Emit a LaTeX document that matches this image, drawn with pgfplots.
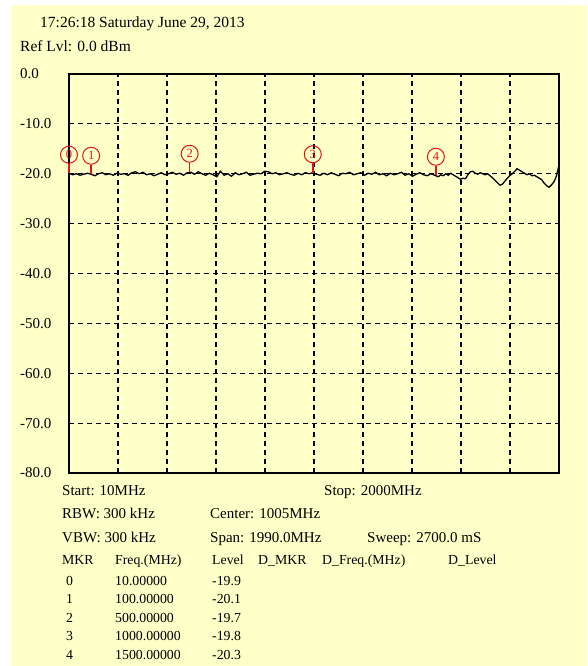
\documentclass[border=0pt]{standalone}
\usepackage{fontspec}
\setmainfont{Liberation Serif}
\usepackage{pgfplots}
\usepackage{pgfplotstable}
\pgfplotsset{compat=1.18}

\definecolor{panel}{RGB}{255,255,200}
\definecolor{mkred}{RGB}{225,20,20}

% spectrum trace, level in dBm
\pgfplotstableread{
f lvl
10 -19.9
25 -20.2
40 -20.0
55 -20.3
70 -20.1
85 -19.9
100 -20.1
115 -20.4
130 -20.0
145 -19.8
160 -20.2
175 -20.0
190 -20.3
205 -19.9
220 -20.1
235 -20.0
250 -20.3
265 -19.8
280 -19.6
295 -20.0
310 -19.7
325 -20.2
340 -20.0
355 -20.4
370 -20.1
385 -19.8
400 -20.2
415 -20.0
430 -19.7
445 -20.1
460 -19.9
475 -20.3
490 -19.8
505 -19.7
520 -20.1
535 -19.6
550 -20.0
565 -20.3
580 -19.9
595 -20.2
610 -20.6
625 -19.5
640 -20.3
655 -20.0
670 -20.5
685 -19.8
700 -20.2
715 -20.0
730 -19.7
745 -20.3
760 -20.1
775 -19.9
790 -20.0
805 -19.5
820 -19.6
835 -20.0
850 -19.8
865 -20.2
880 -20.0
895 -19.8
910 -20.1
925 -20.3
940 -19.9
955 -20.2
970 -19.8
985 -20.0
1000 -19.8
1015 -20.1
1030 -20.3
1045 -19.9
1060 -20.2
1075 -19.8
1090 -20.1
1105 -20.4
1120 -19.9
1135 -20.0
1150 -19.7
1165 -20.2
1180 -20.0
1195 -19.8
1210 -20.3
1225 -19.9
1240 -20.1
1255 -19.7
1270 -20.2
1285 -20.0
1300 -20.4
1315 -19.9
1330 -20.2
1345 -20.0
1360 -19.7
1375 -20.3
1390 -20.0
1405 -20.5
1420 -20.1
1435 -19.8
1450 -20.2
1465 -20.4
1480 -20.0
1495 -20.3
1510 -20.6
1520 -20.2
1530 -20.4
1540 -20.0
1550 -20.3
1560 -19.9
1570 -20.2
1580 -20.5
1590 -20.8
1600 -21.1
1610 -20.9
1620 -21.0
1630 -20.2
1640 -19.6
1650 -19.5
1660 -19.9
1670 -20.1
1680 -19.8
1690 -20.0
1700 -20.2
1710 -20.0
1720 -20.4
1730 -20.8
1740 -21.3
1750 -21.8
1760 -22.3
1770 -22.1
1780 -21.5
1790 -20.9
1800 -20.4
1810 -20.0
1820 -19.5
1830 -19.0
1840 -19.3
1850 -19.6
1860 -19.9
1870 -20.2
1880 -20.0
1890 -20.4
1900 -20.3
1910 -20.6
1920 -20.9
1930 -21.2
1940 -21.9
1950 -22.4
1960 -22.7
1970 -22.2
1980 -21.6
1990 -20.4
2000 -18.2
}\trace

% markers
\pgfplotstableread{
f lvl mkr
10 -19.9 0
100 -20.1 1
500 -19.7 2
1000 -19.8 3
1500 -20.3 4
}\markers

\pgfdeclareplotmark{stem}{%
  \pgfpathmoveto{\pgfpointorigin}%
  \pgfpathlineto{\pgfpoint{0pt}{9.5pt}}%
  \pgfusepathqstroke}

\begin{document}
\begin{tikzpicture}[x=1pt,y=1pt]
\fill[white] (0pt,0pt) rectangle (587pt,-666pt);
\fill[panel] (11pt,-5pt) rectangle (587pt,-666pt);

\begin{axis}[
    at={(69pt,-473pt)}, anchor=south west,
    scale only axis,
    width=490pt, height=399pt,
    xmin=10, xmax=2000, ymin=-80, ymax=0,
    xtick={10,209,408,607,806,1005,1204,1403,1602,1801,2000},
    xticklabels={},
    ytick={-80,-70,...,0},
    yticklabels={-80.0,-70.0,-60.0,-50.0,-40.0,-30.0,-20.0,-10.0,0.0},
    yticklabel style={anchor=west, inner sep=0pt, xshift=-49pt,
        font=\fontsize{15}{18}\selectfont},
    major tick length=0pt,
    grid=major,
    major grid style={black, line width=1.2pt, dash pattern=on 5pt off 4pt},
    axis line style={line width=2.4pt},
    clip=false,
    ]
    \addplot[black, line width=1.3pt, mark=none] table[x=f, y=lvl] {\trace};
    \addplot[mkred, line width=1.6pt, only marks, mark=stem,
        point meta=explicit symbolic,
        nodes near coords,
        nodes near coords style={circle, draw=mkred, line width=1pt,
            text=mkred, inner sep=0pt, minimum size=17pt,
            anchor=south, yshift=9.5pt,
            font=\fontsize{12.5}{12}\selectfont},
        ] table[x=f, y=lvl, meta=mkr] {\markers};
\end{axis}

\node[anchor=base west, inner sep=0pt, font=\fontsize{15.5}{18}\selectfont]
    at (40pt,-28pt) {17:26:18 Saturday June 29, 2013};
\node[anchor=base west, inner sep=0pt, font=\fontsize{15.5}{18}\selectfont]
    at (20pt,-52pt) {Ref Lvl: 0.0 dBm};

\begin{scope}[every node/.style={anchor=base west, inner sep=0pt,
    font=\fontsize{15}{18}\selectfont}]
\node at (62pt,-495pt) {Start: 10MHz};
\node at (324pt,-495pt) {Stop: 2000MHz};
\node at (62pt,-518pt) {RBW: 300 kHz};
\node at (210pt,-518pt) {Center: 1005MHz};
\node at (62pt,-542pt) {VBW: 300 kHz};
\node at (210pt,-542pt) {Span: 1990.0MHz};
\node at (367pt,-542pt) {Sweep: 2700.0 mS};
\end{scope}

\begin{scope}[every node/.style={anchor=base west, inner sep=0pt,
    font=\fontsize{13.8}{16}\selectfont}]
\node at (62pt,-564pt) {MKR};
\node at (115pt,-564pt) {Freq.(MHz)};
\node at (212pt,-564pt) {Level};
\node at (258pt,-564pt) {D\_MKR};
\node at (322pt,-564pt) {D\_Freq.(MHz)};
\node at (448pt,-564pt) {D\_Level};
\node at (66pt,-585pt) {0};
\node at (115pt,-585pt) {10.00000};
\node at (212pt,-585pt) {-19.9};
\node at (66pt,-603pt) {1};
\node at (115pt,-603pt) {100.00000};
\node at (212pt,-603pt) {-20.1};
\node at (66pt,-622pt) {2};
\node at (115pt,-622pt) {500.00000};
\node at (212pt,-622pt) {-19.7};
\node at (66pt,-640pt) {3};
\node at (115pt,-640pt) {1000.00000};
\node at (212pt,-640pt) {-19.8};
\node at (66pt,-659pt) {4};
\node at (115pt,-659pt) {1500.00000};
\node at (212pt,-659pt) {-20.3};
\end{scope}
\end{tikzpicture}
\end{document}
